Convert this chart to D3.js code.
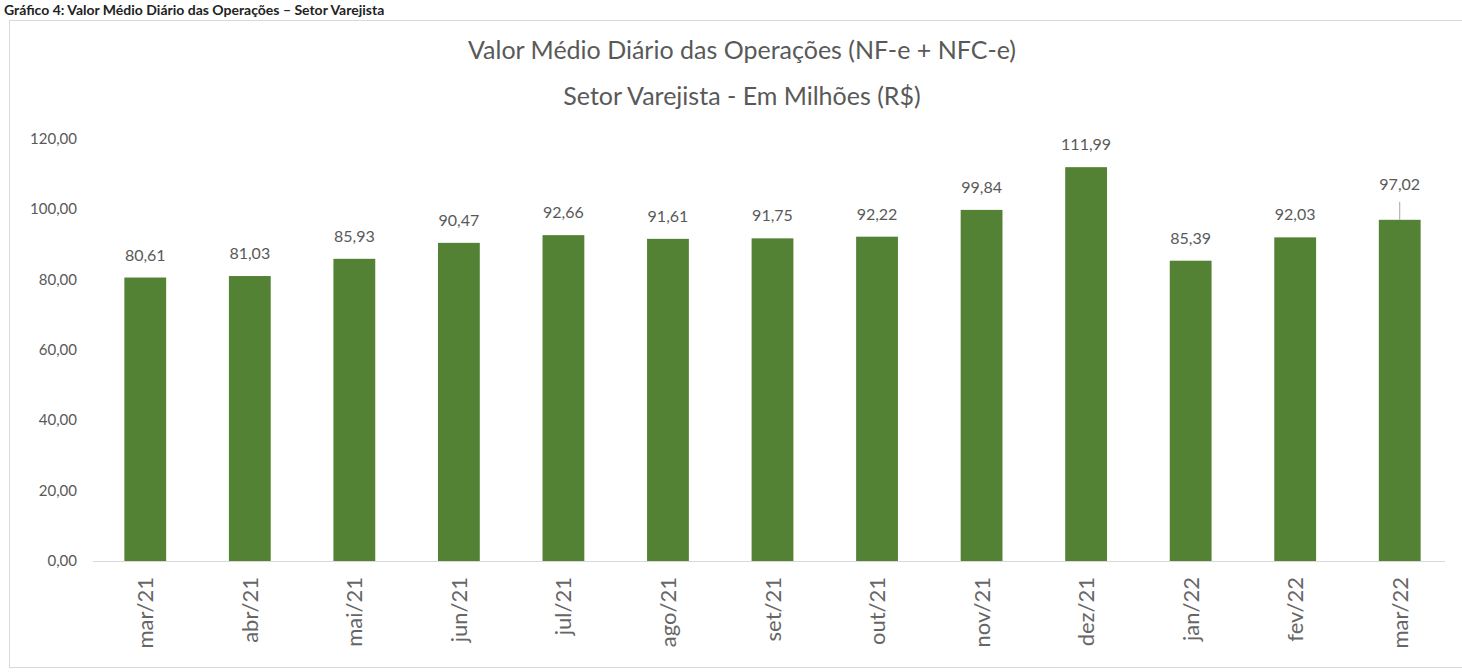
<!DOCTYPE html>
<html>
<head>
<meta charset="utf-8">
<script src="https://cdn.jsdelivr.net/npm/d3@7"></script>
<style>
  body { margin: 0; background: #fff; }
  svg { display: block; }
</style>
</head>
<body>
<div id="chart"></div>
<script>
// months and values (R$ millions)
const months = ['mar/21','abr/21','mai/21','jun/21','jul/21','ago/21','set/21','out/21','nov/21','dez/21','jan/22','fev/22','mar/22'];
const values = [80.61, 81.03, 85.93, 90.47, 92.66, 91.61, 91.75, 92.22, 99.84, 111.99, 85.39, 92.03, 97.02];
const yTicks = [0, 20, 40, 60, 80, 100, 120];
const titleLines = ['Valor Médio Diário das Operações (NF-e + NFC-e)', 'Setor Varejista - Em Milhões (R$)'];
const header = 'Gráfico 4: Valor Médio Diário das Operações – Setor Varejista';

const W = 1462, H = 672;
const font = 'Lato, "Open Sans", sans-serif';
const grey = '#595959';

const svg = d3.select('#chart').append('svg')
    .attr('width', W)
    .attr('height', H)

// header above the chart frame
svg.append('text')
    .attr('x', 4).attr('y', 15)
    .style('font-family', font).style('font-weight', 'bold')
    .style('font-size', '14px').attr('fill', '#222')
    .text(header)

// chart frame
svg.append('rect')
    .attr('x', 9.5).attr('y', 20.5)
    .attr('width', W - 4).attr('height', H - 25)
    .attr('fill', '#fff').attr('stroke', '#d9d9d9')

const x = d3.scaleBand()
    .domain(months)
    .range([93, 1452])
    .paddingInner(0.6)
    .paddingOuter(0.3)

const y = d3.scaleLinear()
    .domain([0, 120])
    .range([561, 139])

// title
svg.selectAll('.title')
    .data(titleLines)
    .enter().append('text')
    .attr('class', 'title')
    .attr('x', 742)
    .attr('y', (d, i) => 59 + i * 46)
    .attr('text-anchor', 'middle')
    .style('font-family', font).style('font-size', '25px')
    .attr('fill', grey)
    .text(d => d)

// y axis labels
svg.selectAll('.ytick')
    .data(yTicks)
    .enter().append('text')
    .attr('class', 'ytick')
    .attr('x', 77)
    .attr('y', d => y(d) + 5)
    .attr('text-anchor', 'end')
    .style('font-family', font).style('font-size', '15px')
    .attr('fill', grey)
    .text(d => d3.format('.2f')(d).replace('.', ','))

// bars
svg.selectAll('.bar')
    .data(values)
    .enter().append('rect')
    .attr('class', 'bar')
    .attr('x', (d, i) => x(months[i]))
    .attr('y', d => y(d))
    .attr('width', x.bandwidth())
    .attr('height', d => y(0) - y(d))
    .attr('fill', '#548235')

// baseline
svg.append('line')
    .attr('x1', 93).attr('x2', 1445)
    .attr('y1', y(0) + 0.5).attr('y2', y(0) + 0.5)
    .attr('stroke', '#d9d9d9')

// data labels; last one sits higher with a leader line
const labelOffset = (i) => i === values.length - 1 ? 30 : 17
svg.selectAll('.leader')
    .data(values.filter((d, i) => i === values.length - 1))
    .enter().append('line')
    .attr('x1', x(months[months.length - 1]) + x.bandwidth() / 2)
    .attr('x2', x(months[months.length - 1]) + x.bandwidth() / 2)
    .attr('y1', d => y(d) - 18).attr('y2', d => y(d))
    .attr('stroke', '#a6a6a6')

svg.selectAll('.dlabel')
    .data(values)
    .enter().append('text')
    .attr('class', 'dlabel')
    .attr('x', (d, i) => x(months[i]) + x.bandwidth() / 2)
    .attr('y', (d, i) => y(d) - labelOffset(i))
    .attr('text-anchor', 'middle')
    .style('font-family', font).style('font-size', '16px')
    .attr('fill', grey)
    .text(d => d3.format('.2f')(d).replace('.', ','))

// x labels rotated
svg.selectAll('.xlabel')
    .data(months)
    .enter().append('text')
    .attr('class', 'xlabel')
    .attr('transform', d => `translate(${x(d) + x.bandwidth() / 2 + 8},577) rotate(-90)`)
    .attr('text-anchor', 'end')
    .style('font-family', font).style('font-size', '22px')
    .attr('fill', '#666')
    .text(d => d)
</script>
</body>
</html>
